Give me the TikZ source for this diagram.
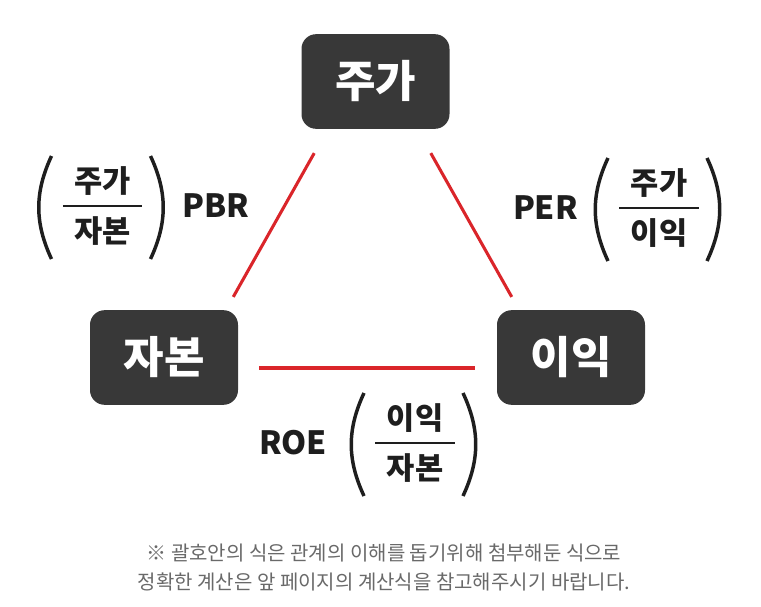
\documentclass[tikz,border=0pt]{standalone}
\usepackage{fontspec}
\setmainfont{Noto Sans CJK KR}
\usetikzlibrary{positioning,calc}

\definecolor{boxgray}{RGB}{56,56,56}
\definecolor{linkred}{RGB}{218,37,42}
\definecolor{notegray}{RGB}{105,105,105}
\definecolor{inkblack}{RGB}{30,30,30}

% round brackets around a ratio node
\newcommand{\ratioparens}[1]{%
    \draw[paren] ($(#1.center)+(-51,-50)$) to[bend right=25] ($(#1.center)+(-51,53)$);
    \draw[paren] ($(#1.center)+(48,-50)$) to[bend left=25] ($(#1.center)+(48,53)$);
    \draw[bar] (#1.west) -- (#1.east);}

\begin{document}
\begin{tikzpicture}[
        x=0.75pt,
        y=-0.75pt,
        every node/.style={font=\bfseries},
        value/.style={
            rectangle,
            rounded corners=11pt,
            fill=boxgray,
            text=white,
            minimum width=111pt,
            minimum height=71pt,
            font=\bfseries\fontsize{33}{33}\selectfont
        },
        ratio/.style={
            align=center,
            text=inkblack,
            inner xsep=0pt,
            inner ysep=0pt,
            minimum width=59pt,
            font=\bfseries\fontsize{23}{37.5}\selectfont
        },
        rationame/.style={
            inner sep=0pt,
            text=inkblack,
            font=\bfseries\fontsize{24}{24}\selectfont
        },
        link/.style={
            draw=linkred,
            line width=2.3pt
        },
        paren/.style={
            draw=inkblack,
            line width=2.6pt
        },
        bar/.style={
            draw=inkblack,
            line width=1.6pt
        }
    ]
    \useasboundingbox (0,0) rectangle (761,607);

    % three values
    \node[value] (price) at (375.5,81.5) {주가};
    \node[value] (equity) at (164,357.5) {자본};
    \node[value] (earnings) at (571,357.5) {이익};

    % connecting lines
    \draw[link] ($(price.south west)+(13,24)$) -- ($(equity.north east)+(-5,-13)$);
    \draw[link] ($(price.south east)+(-19,24)$) -- ($(earnings.north west)+(15,-13)$);
    \draw[link] ($(equity.east)+(21,10.5)$) -- ($(earnings.west)+(-22,10.5)$);

    % ratios
    \node[ratio] (pbrfrac) at (102.5,206) {주가\\자본};
    \node[rationame, right=30pt of pbrfrac] (pbr) {PBR};
    \ratioparens{pbrfrac}

    \node[ratio] (perfrac) at (659,208) {주가\\이익};
    \node[rationame, left=31pt of perfrac] (per) {PER};
    \ratioparens{perfrac}

    \node[ratio] (roefrac) at (415,443) {이익\\자본};
    \node[rationame, left=36pt of roefrac] (roe) {ROE};
    \ratioparens{roefrac}

    % footnote
    \node[align=center, text=notegray, font=\fontsize{15}{21.75}\selectfont] (note) at (384,567)
    {※ 괄호안의 식은 관계의 이해를 돕기위해 첨부해둔 식으로\\
     정확한 계산은 앞 페이지의 계산식을 참고해주시기 바랍니다.};

\end{tikzpicture}
\end{document}
